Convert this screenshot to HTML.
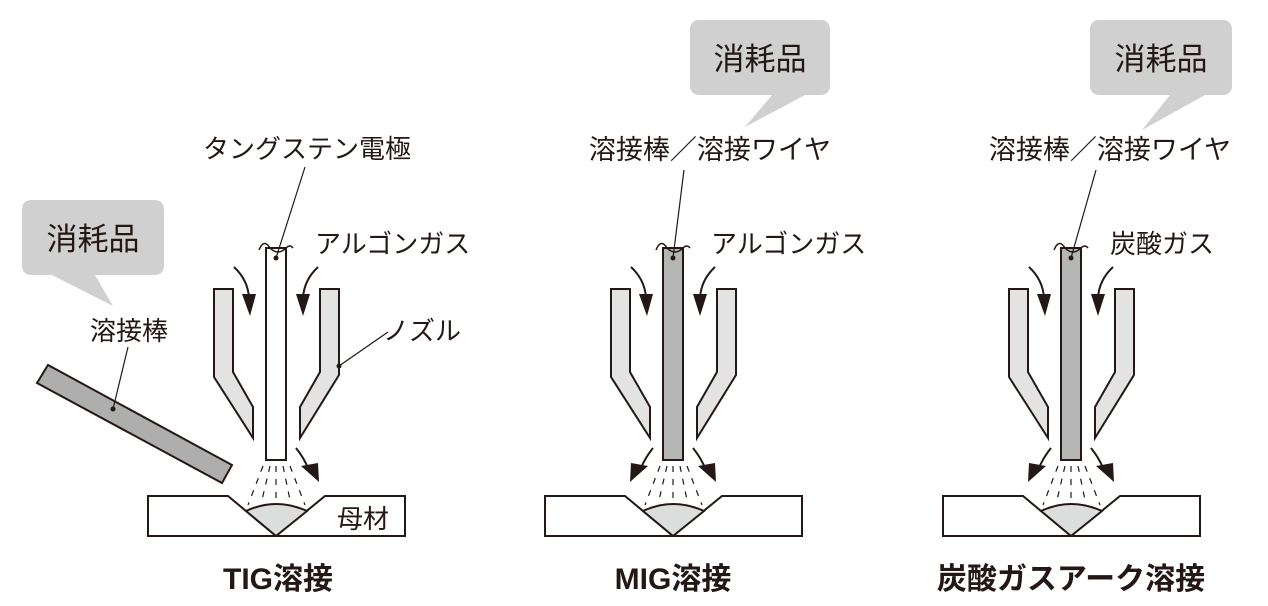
<!DOCTYPE html>
<html><head><meta charset="utf-8"><style>
html,body{margin:0;padding:0;background:#fff;}
svg{display:block;}
text{font-family:"Liberation Sans","Noto Sans CJK JP",sans-serif;fill:#231815;}
</style></head><body>
<svg width="1268" height="606" viewBox="0 0 1268 606" xmlns="http://www.w3.org/2000/svg">
<defs>
<g id="torch">
  <polygon points="214,289 233,289 233,372 253,407 253,438 214,377" fill="#e3e3e4" stroke="#231815" stroke-width="2"/>
  <polygon points="320,289 339,289 339,375 300,438 300,407 320,372" fill="#e3e3e4" stroke="#231815" stroke-width="2"/>
  <polygon points="148,496 228,496 276,536 325,496 405,496 405,536 148,536" fill="#fff" stroke="#231815" stroke-width="2"/>
  <path d="M246,511 Q276,497 307,511 L276,536 Z" fill="#dcdddd" stroke="#231815" stroke-width="2"/>
  <g stroke="#231815" stroke-width="1.2" stroke-dasharray="6,7">
    <line x1="263" y1="466" x2="248" y2="505"/>
    <line x1="270" y1="466" x2="262" y2="500"/>
    <line x1="276" y1="466" x2="276" y2="498"/>
    <line x1="283" y1="466" x2="290" y2="500"/>
    <line x1="290" y1="466" x2="305" y2="505"/>
  </g>
  <path d="M234,267 Q248,280 249,298" fill="none" stroke="#231815" stroke-width="2"/>
  <polygon points="242,294 256,294 250,316" fill="#231815"/>
  <path d="M318,267 Q304,280 303,298" fill="none" stroke="#231815" stroke-width="2"/>
  <polygon points="296,294 310,294 303,316" fill="#231815"/>
</g>
</defs>

<!-- ===== TIG ===== -->
<use href="#torch"/>
<rect x="266" y="248" width="20" height="212" fill="#fff" stroke="#231815" stroke-width="2"/>
<path d="M259,250 Q264,238 270,248 Q278,256 286,248 Q290,244 293,248" fill="none" stroke="#231815" stroke-width="1.5"/>
<path d="M296,448 Q304,458 308,468" fill="none" stroke="#231815" stroke-width="2"/>
<polygon points="301,466 318,463 319,482" fill="#231815"/>
<polygon points="37,383 48,365 232,465 222,483" fill="#aeaeae" stroke="#231815" stroke-width="2"/>
<circle cx="113" cy="409" r="2.5" fill="#231815"/>
<line x1="113" y1="409" x2="128" y2="347" stroke="#231815" stroke-width="1.2"/>
<text x="129" y="340" font-size="26" text-anchor="middle">溶接棒</text>
<path d="M32,200 H154 Q164,200 164,210 V265 Q164,275 154,275 H95 L113,306 L52,275 H32 Q22,275 22,265 V210 Q22,200 32,200 Z" fill="#d0d0d0"/>
<text x="93" y="250" font-size="31" text-anchor="middle">消耗品</text>
<circle cx="276" cy="258" r="2.5" fill="#231815"/>
<line x1="276" y1="258" x2="305" y2="167" stroke="#231815" stroke-width="1.2"/>
<text x="307" y="158" font-size="26" text-anchor="middle">タングステン電極</text>
<text x="315" y="253" font-size="26">アルゴンガス</text>
<circle cx="339" cy="366" r="2.5" fill="#231815"/>
<line x1="339" y1="366" x2="388" y2="332" stroke="#231815" stroke-width="1.2"/>
<text x="383" y="340" font-size="26">ノズル</text>
<text x="337" y="528" font-size="26">母材</text>
<text x="278" y="589" font-size="30" font-weight="bold" text-anchor="middle">TIG溶接</text>

<!-- ===== MIG ===== -->
<g transform="translate(397,0)">
<use href="#torch"/>
<rect x="266" y="248" width="20" height="212" fill="#b5b6b6" stroke="#231815" stroke-width="2"/>
<path d="M259,250 Q264,238 270,248 Q278,256 286,248 Q290,244 293,248" fill="none" stroke="#231815" stroke-width="1.5"/>
<path d="M296,448 Q304,458 308,468" fill="none" stroke="#231815" stroke-width="2"/>
<polygon points="301,466 318,463 319,482" fill="#231815"/>
<path d="M256,448 Q248,458 244,468" fill="none" stroke="#231815" stroke-width="2"/>
<polygon points="251,466 234,463 233,482" fill="#231815"/>
<circle cx="276" cy="258" r="2.5" fill="#231815"/>
<line x1="276" y1="258" x2="287" y2="170" stroke="#231815" stroke-width="1.2"/>
</g>
<text x="710" y="159" font-size="27" text-anchor="middle">溶接棒／溶接ワイヤ</text>
<text x="711" y="253" font-size="26">アルゴンガス</text>
<path d="M700,20 H820 Q830,20 830,30 V85 Q830,95 820,95 H805 L745,127 L772,95 H700 Q690,95 690,85 V30 Q690,20 700,20 Z" fill="#d0d0d0"/>
<text x="760" y="70" font-size="31" text-anchor="middle">消耗品</text>
<text x="673" y="589" font-size="30" font-weight="bold" text-anchor="middle">MIG溶接</text>

<!-- ===== CO2 ===== -->
<g transform="translate(795,0)">
<use href="#torch"/>
<rect x="266" y="248" width="20" height="212" fill="#b5b6b6" stroke="#231815" stroke-width="2"/>
<path d="M259,250 Q264,238 270,248 Q278,256 286,248 Q290,244 293,248" fill="none" stroke="#231815" stroke-width="1.5"/>
<path d="M296,448 Q304,458 308,468" fill="none" stroke="#231815" stroke-width="2"/>
<polygon points="301,466 318,463 319,482" fill="#231815"/>
<path d="M256,448 Q248,458 244,468" fill="none" stroke="#231815" stroke-width="2"/>
<polygon points="251,466 234,463 233,482" fill="#231815"/>
<circle cx="276" cy="258" r="2.5" fill="#231815"/>
<line x1="276" y1="258" x2="301" y2="170" stroke="#231815" stroke-width="1.2"/>
</g>
<text x="1110" y="159" font-size="27" text-anchor="middle">溶接棒／溶接ワイヤ</text>
<text x="1110" y="253" font-size="26">炭酸ガス</text>
<path d="M1100,20 H1222 Q1232,20 1232,30 V85 Q1232,95 1222,95 H1205 L1142,130 L1170,95 H1100 Q1090,95 1090,85 V30 Q1090,20 1100,20 Z" fill="#d0d0d0"/>
<text x="1161" y="70" font-size="31" text-anchor="middle">消耗品</text>
<text x="1071" y="589" font-size="30" font-weight="bold" text-anchor="middle">炭酸ガスアーク溶接</text>
</svg>
</body></html>
